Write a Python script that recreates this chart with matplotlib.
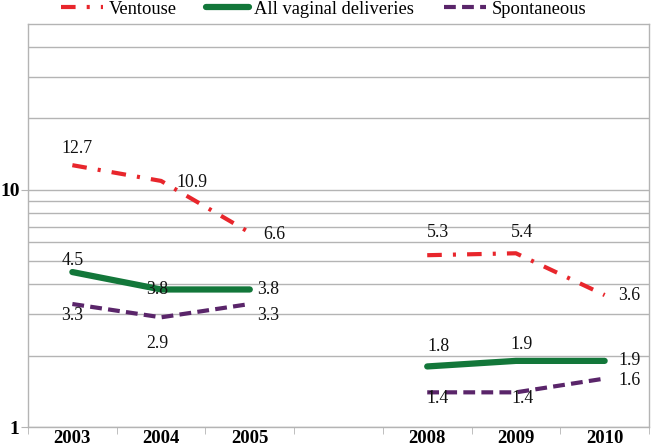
import numpy as np
import matplotlib
matplotlib.use("Agg")
import matplotlib.pyplot as plt
from matplotlib.ticker import FixedLocator, NullFormatter

plt.rcParams['font.family'] = ['Liberation Serif', 'DejaVu Serif']
plt.rcParams['lines.scale_dashes'] = False

# data
years = ["2003", "2004", "2005", "", "2008", "2009", "2010"]
ventouse = [12.7, 10.9, 6.6, np.nan, 5.3, 5.4, 3.6]
all_vaginal = [4.5, 3.8, 3.8, np.nan, 1.8, 1.9, 1.9]
spontaneous = [3.3, 2.9, 3.3, np.nan, 1.4, 1.4, 1.6]

# label offsets in pixels (dx, dy) relative to the data point
ven_off = [(5, 17), (31, -2), (25, -2), None, (11, 23), (6, 21), (25, 0)]
all_off = [(0, 12), (-4, 0), (18, 0), None, (11, 20), (6, 16), (25, 0)]
spo_off = [(0, -11), (-4, -26), (18, -11), None, (10, -6), (7, -6), (25, -2)]

red = "#e8262c"
green = "#13773a"
purple = "#5a256a"
grid_c = "#b4b4b4"

fig = plt.figure(figsize=(6.52, 4.48), dpi=100)
ax = fig.add_axes([28 / 652, 1 - 427 / 448, 621 / 652, 403 / 448])

x = np.arange(len(years))
ax.plot(x, ventouse, color=red, lw=3, dashes=(10.5, 8, 2.2, 8), label="Ventouse")
ax.plot(x, all_vaginal, color=green, lw=4.5, solid_capstyle="round",
        label="All vaginal deliveries")
ax.plot(x, spontaneous, color=purple, lw=3, dashes=(8.5, 4.5), label="Spontaneous")

for vals, offs in [(ventouse, ven_off), (all_vaginal, all_off), (spontaneous, spo_off)]:
    for i, v in enumerate(vals):
        if offs[i] is None or np.isnan(v):
            continue
        ax.annotate(f"{v:.1f}", (x[i], v), xytext=offs[i], textcoords="offset pixels",
                    ha="center", va="center", fontsize=12.8, color="#111111")

ax.set_yscale("log")
ax.set_ylim(1, 50)
ax.set_xlim(-0.5, len(years) - 0.5)

ax.yaxis.set_major_locator(FixedLocator([1, 10]))
ax.yaxis.set_minor_locator(FixedLocator([2, 3, 4, 5, 6, 7, 8, 9, 20, 30, 40]))
ax.yaxis.set_minor_formatter(NullFormatter())
ax.set_yticklabels(["1", "10"], fontsize=14, fontweight="bold")
ax.grid(True, axis="y", which="both", color=grid_c, lw=1)
ax.tick_params(axis="y", which="major", length=5, color=grid_c, pad=1)
ax.tick_params(axis="y", which="minor", length=0)

ax.set_xticks(x)
ax.set_xticklabels(years, fontsize=13.5, fontweight="bold")
ax.set_xticks(np.arange(-0.5, len(years)), minor=True)
ax.tick_params(axis="x", which="major", length=0, pad=2)
ax.tick_params(axis="x", which="minor", length=5, color=grid_c)

for s in ax.spines.values():
    s.set_color(grid_c)
    s.set_linewidth(1)
ax.set_axisbelow(True)

leg = fig.legend(loc="center", bbox_to_anchor=(0.496, 1 - 9 / 448), ncol=3, frameon=False,
                 fontsize=13.3, handlelength=2.3, columnspacing=1.6, handletextpad=0.3,
                 borderpad=0)

fig.savefig("out.png", dpi=100)
